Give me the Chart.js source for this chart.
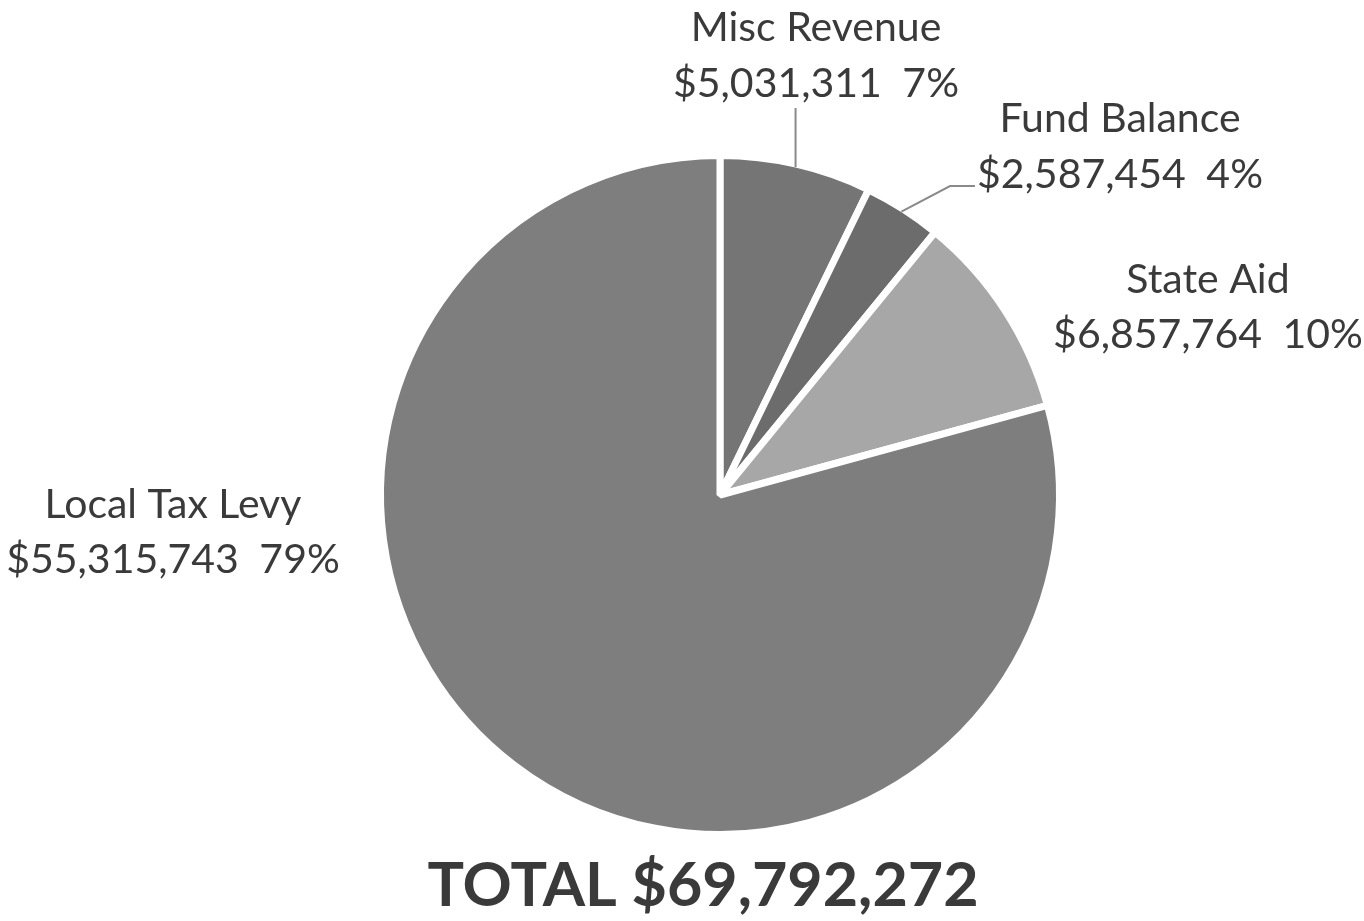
<!DOCTYPE html>
<html>
<head>
<meta charset="utf-8">
<script src="https://cdn.jsdelivr.net/npm/chart.js@4/dist/chart.umd.min.js"></script>
<style>
html,body{margin:0;padding:0;background:#fff;}
#wrap{position:relative;width:1364px;height:921px;}
canvas{display:block;}
</style>
</head>
<body>
<div id="wrap"><canvas id="c" width="1364" height="921"></canvas></div>
<script>
const categories = ["Misc Revenue", "Fund Balance", "State Aid", "Local Tax Levy"];
const amounts = [5031311, 2587454, 6857764, 55315743];
const amountLabels = ["$5,031,311", "$2,587,454", "$6,857,764", "$55,315,743"];
const percentLabels = ["7%", "4%", "10%", "79%"];
const totalLabel = "TOTAL $69,792,272";
const sliceColors = ["#757575", "#6c6c6c", "#a7a7a7", "#7e7e7e"];

const FONT = "Lato, 'Open Sans', sans-serif";
const TEXT_COLOR = "#3a3a3a";

// label placement (offsets relative to chart geometry)
const labelPlacement = [
  {x: 816, y1: 28, y2: 84, leader: [[796, 108]]},
  {x: 1120, y1: 119, y2: 175, leader: [[950, 186], [975, 186]]},
  {x: 1208, y1: 280, y2: 335, leader: null},
  {x: 173, y1: 505, y2: 560, leader: null}
];

const labelPlugin = {
  id: 'labels',
  afterDraw(chart) {
    const ctx = chart.ctx;
    const meta = chart.getDatasetMeta(0);
    ctx.save();
    ctx.textAlign = 'center';
    ctx.textBaseline = 'middle';
    ctx.fillStyle = TEXT_COLOR;
    ctx.font = "41px " + FONT;
    meta.data.forEach((arc, i) => {
      const p = labelPlacement[i];
      ctx.fillText(categories[i], p.x, p.y1);
      ctx.fillText(amountLabels[i] + "\u2002" + percentLabels[i], p.x, p.y2);
      if (p.leader) {
        const mid = (arc.startAngle + arc.endAngle) / 2;
        const r = arc.outerRadius - 3;
        const ax = arc.x + Math.cos(mid) * r;
        const ay = arc.y + Math.sin(mid) * r;
        ctx.beginPath();
        ctx.strokeStyle = "#8a8a8a";
        ctx.lineWidth = 2;
        ctx.moveTo(ax, ay);
        if (p.leader.length === 1) {
          ctx.lineTo(ax, p.leader[0][1]);
        } else {
          p.leader.forEach(pt => ctx.lineTo(pt[0], pt[1]));
        }
        ctx.stroke();
      }
    });
    ctx.font = "bold 61px " + FONT;
    ctx.fillText(totalLabel, 703, 886);
    ctx.restore();
  }
};

new Chart(document.getElementById('c'), {
  type: 'pie',
  data: {
    labels: categories,
    datasets: [{
      data: amounts,
      backgroundColor: sliceColors,
      borderColor: "#ffffff",
      borderWidth: 7,
      borderAlign: 'center'
    }]
  },
  options: {
    responsive: false,
    devicePixelRatio: 1,
    animation: false,
    rotation: 0,
    layout: {padding: {top: 152, bottom: 83, left: 377, right: 301}},
    plugins: {legend: {display: false}, tooltip: {enabled: false}, title: {display: false}}
  },
  plugins: [labelPlugin]
});
</script>
</body>
</html>
